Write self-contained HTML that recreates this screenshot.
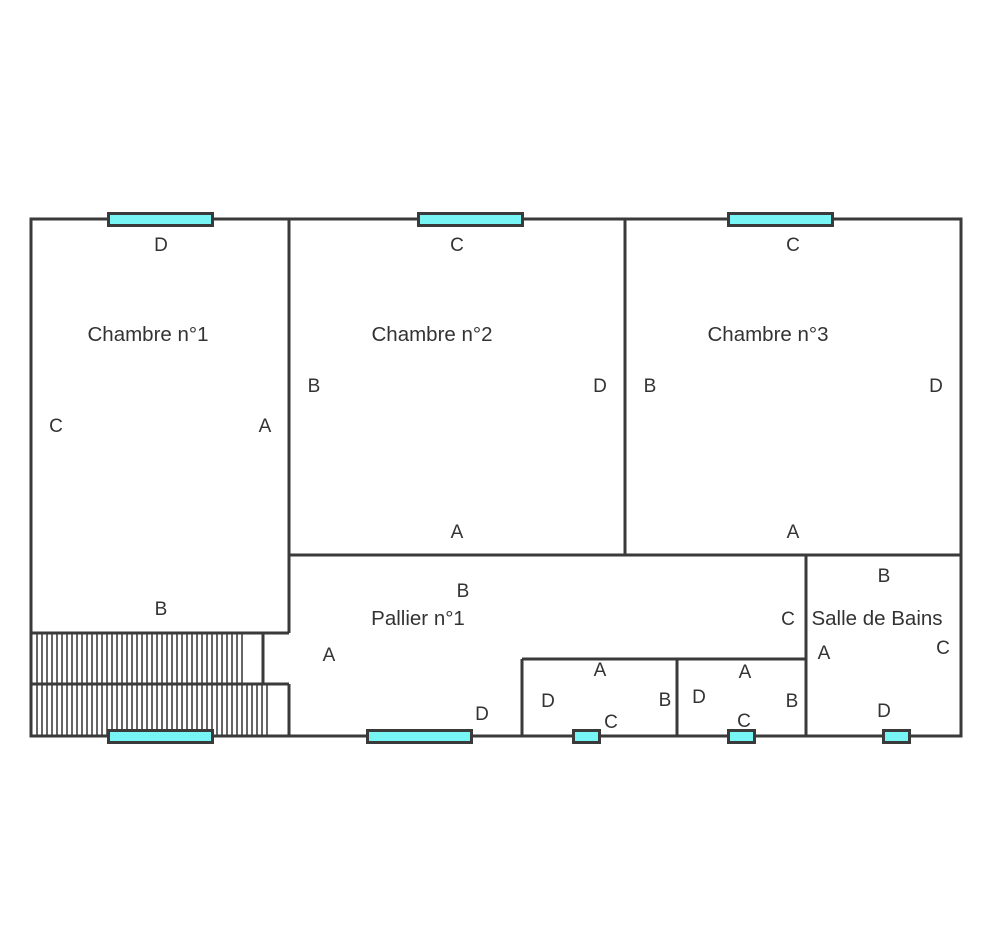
<!DOCTYPE html>
<html><head><style>body{margin:0;background:#fff}svg{display:block}</style></head>
<body>
<svg width="995" height="952" xmlns="http://www.w3.org/2000/svg" font-family="Liberation Sans, sans-serif" fill="#333">
<g stroke="#333" stroke-width="1.5" fill="none">
<path d="M37 633V684M42 633V684M47 633V684M52 633V684M57 633V684M62 633V684M67 633V684M72 633V684M77 633V684M82 633V684M87 633V684M92 633V684M97 633V684M102 633V684M107 633V684M112 633V684M117 633V684M122 633V684M127 633V684M132 633V684M137 633V684M142 633V684M147 633V684M152 633V684M157 633V684M162 633V684M167 633V684M172 633V684M177 633V684M182 633V684M187 633V684M192 633V684M197 633V684M202 633V684M207 633V684M212 633V684M217 633V684M222 633V684M227 633V684M232 633V684M237 633V684M242 633V684"/>
<path d="M37 684V736M42 684V736M47 684V736M52 684V736M57 684V736M62 684V736M67 684V736M72 684V736M77 684V736M82 684V736M87 684V736M92 684V736M97 684V736M102 684V736M107 684V736M112 684V736M117 684V736M122 684V736M127 684V736M132 684V736M137 684V736M142 684V736M147 684V736M152 684V736M157 684V736M162 684V736M167 684V736M172 684V736M177 684V736M182 684V736M187 684V736M192 684V736M197 684V736M202 684V736M207 684V736M212 684V736M217 684V736M222 684V736M227 684V736M232 684V736M237 684V736M242 684V736M247 684V736M252 684V736M257 684V736M262 684V736M267 684V736"/>
</g>
<g stroke="#3a3a3a" stroke-width="3" fill="none">
<rect x="31" y="219" width="930" height="517"/>
<path d="M289 219V633M625 219V555M289 555H961M31 633H289M31 684H289M289 684V736M263 633V684M806 555V736M522 659H806M522 659V736M677 659V736"/>
</g>
<g stroke="#3a3a3a" stroke-width="3" fill="#77f5f5">
<rect x="108.5" y="213.5" width="104" height="12"/>
<rect x="418.5" y="213.5" width="104" height="12"/>
<rect x="728.5" y="213.5" width="104" height="12"/>
<rect x="108.5" y="730.5" width="104" height="12"/>
<rect x="367.5" y="730.5" width="104" height="12"/>
<rect x="573.5" y="730.5" width="26" height="12"/>
<rect x="728.5" y="730.5" width="26" height="12"/>
<rect x="883.5" y="730.5" width="26" height="12"/>
</g>
<g font-size="20.5" text-anchor="middle">
<text x="148" y="341">Chambre n°1</text>
<text x="432" y="341">Chambre n°2</text>
<text x="768" y="341">Chambre n°3</text>
<text x="418" y="625">Pallier n°1</text>
<text x="877" y="625">Salle de Bains</text>
</g>
<g font-size="19" text-anchor="middle">
<text x="161" y="251">D</text><text x="56" y="432">C</text><text x="265" y="432">A</text><text x="161" y="615">B</text>
<text x="457" y="251">C</text><text x="314" y="392">B</text><text x="600" y="392">D</text><text x="457" y="538">A</text>
<text x="793" y="251">C</text><text x="650" y="392">B</text><text x="936" y="392">D</text><text x="793" y="538">A</text>
<text x="463" y="597">B</text><text x="329" y="661">A</text><text x="788" y="625">C</text><text x="482" y="720">D</text>
<text x="884" y="582">B</text><text x="824" y="659">A</text><text x="943" y="654">C</text><text x="884" y="717">D</text>
<text x="600" y="676">A</text><text x="548" y="707">D</text><text x="665" y="706">B</text><text x="611" y="728">C</text>
<text x="745" y="678">A</text><text x="699" y="703">D</text><text x="792" y="707">B</text><text x="744" y="727">C</text>
</g>
</svg>
</body></html>
